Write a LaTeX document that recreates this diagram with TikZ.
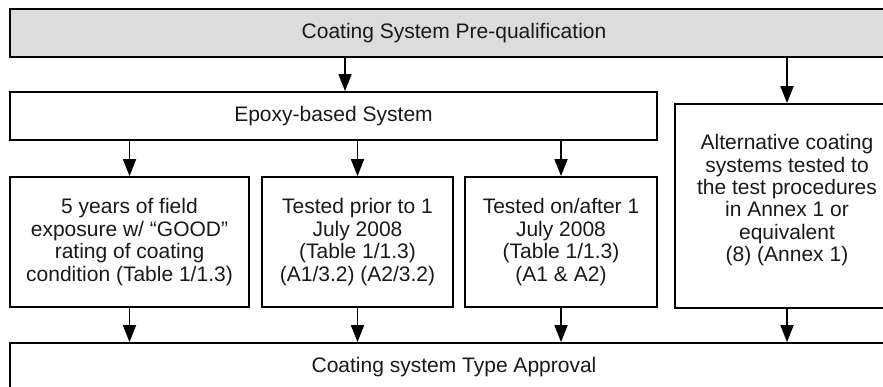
\documentclass[tikz,border=0pt]{standalone}
\usepackage{fontspec}
\setmainfont{Liberation Sans}
\usetikzlibrary{arrows.meta}
\definecolor{boxgray}{HTML}{DCDCDC}
\begin{document}
\begin{tikzpicture}[x=1pt,y=-1pt,
  box/.style={draw=black, line width=1.8pt, inner sep=0pt, align=center,
    font=\fontsize{21}{22.4}\selectfont, text=black!90},
  arr/.style={line width=1.8pt, -{Triangle[length=17pt,width=13pt]}}]
\useasboundingbox (0,0) rectangle (883,387);
\clip (0,0) rectangle (883,387);

% boxes
\node[box, fill=boxgray, minimum width=888, minimum height=48] (pre) at (454,33)
  {Coating System Pre-qualification};
\node[box, minimum width=647, minimum height=48] (epoxy) at (333.5,116)
  {Epoxy-based System};
% extra depth lifts the six text lines a little above the box centre
\node[box, minimum width=224, minimum height=204, text depth=16pt] (alt) at (787,206)
  {Alternative coating\\systems tested to\\the test procedures\\in Annex 1 or\\equivalent\\(8) (Annex 1)};
\node[box, minimum width=239, minimum height=130] (field) at (129.5,242)
  {5 years of field\\exposure w/ “GOOD”\\rating of coating\\condition (Table 1/1.3)};
\node[box, minimum width=191, minimum height=130] (prior) at (357.5,242)
  {Tested prior to 1\\July 2008\\(Table 1/1.3)\\(A1/3.2) (A2/3.2)};
\node[box, minimum width=192, minimum height=130] (after) at (561,242)
  {Tested on/after 1\\July 2008\\(Table 1/1.3)\\(A1 \& A2)};
\node[box, minimum width=888, minimum height=48] (approval) at (454,367)
  {Coating system Type Approval};

% connectors
\coordinate (splitL) at (345,0);
\draw[arr] (pre.south -| splitL) -- (epoxy.north -| splitL);
\draw[arr] (pre.south -| alt.north) -- (alt.north);
\foreach \n in {field,prior,after}
  \draw[arr] (epoxy.south -| \n.north) -- (\n.north);
\foreach \n in {field,prior,after,alt}
  \draw[arr] (\n.south) -- (approval.north -| \n.south);
\end{tikzpicture}
\end{document}
